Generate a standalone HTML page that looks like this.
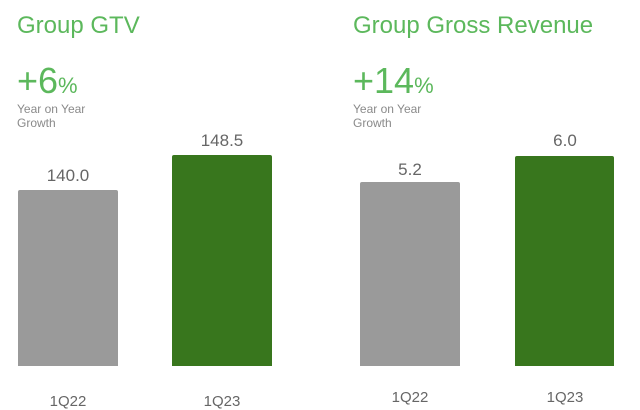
<!DOCTYPE html>
<html><head><style>
body{margin:0;width:640px;height:408px;background:#fff;position:relative;overflow:hidden;font-family:"Liberation Sans",sans-serif}
.a{position:absolute;white-space:nowrap}
.t{color:#5cb85c;font-size:24px}
.p{color:#5cb85c;font-size:36px}
.p small{font-size:22px}
.s{color:#8a8a8a;font-size:12px;line-height:14px}
.v{color:#666;font-size:17px;width:100px;text-align:center}
.b{position:absolute;border-radius:2px 2px 0 0}
.g{background:#9a9a9a}.G{background:#38761d}
</style></head><body>
<div class="a t" style="left:17px;top:12px">Group GTV</div>
<div class="a p" style="left:17px;top:60px">+6<small>%</small></div>
<div class="a s" style="left:17px;top:102px">Year on Year<br>Growth</div>
<div class="a t" style="left:353px;top:12px">Group Gross Revenue</div>
<div class="a p" style="left:353px;top:60px">+14<small>%</small></div>
<div class="a s" style="left:353px;top:102px">Year on Year<br>Growth</div>

<div class="a v" style="left:18px;top:166px">140.0</div>
<div class="b g" style="left:18px;top:190px;width:100px;height:176px"></div>
<div class="a v" style="left:172px;top:131px">148.5</div>
<div class="b G" style="left:172px;top:155px;width:100px;height:211px"></div>
<div class="a v" style="left:360px;top:160px">5.2</div>
<div class="b g" style="left:360px;top:182px;width:100px;height:184px"></div>
<div class="a v" style="left:515px;top:131px">6.0</div>
<div class="b G" style="left:515px;top:156px;width:99px;height:210px"></div>

<div class="a v" style="left:18px;top:393px;font-size:15px">1Q22</div>
<div class="a v" style="left:172px;top:393px;font-size:15px">1Q23</div>
<div class="a v" style="left:360px;top:389px;font-size:15px">1Q22</div>
<div class="a v" style="left:515px;top:389px;font-size:15px">1Q23</div>
</body></html>
